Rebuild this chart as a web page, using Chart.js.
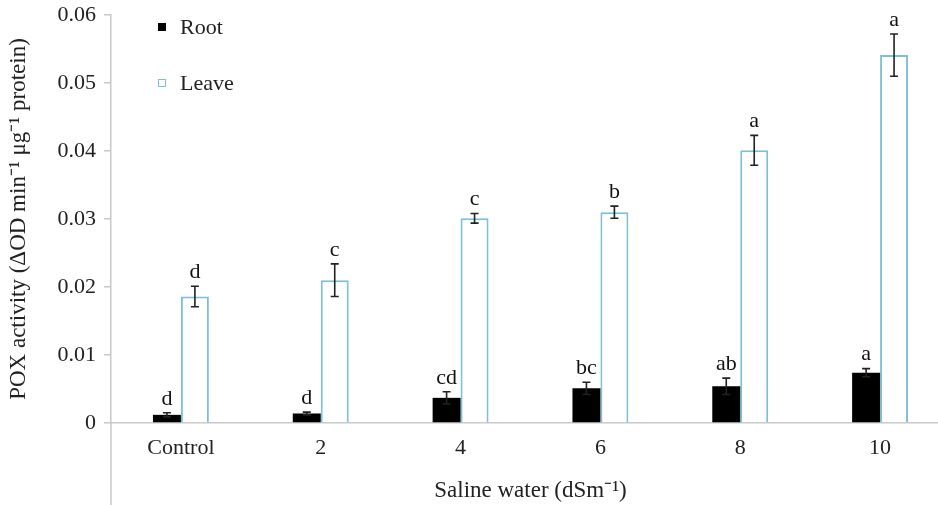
<!DOCTYPE html>
<html>
<head>
<meta charset="utf-8">
<script src="https://cdn.jsdelivr.net/npm/chart.js@4.4.1/dist/chart.umd.min.js"></script>
<style>
  html, body { margin: 0; padding: 0; background: #fff; overflow: hidden; }
  #wrap { width: 960px; height: 505px; position: relative; }
</style>
</head>
<body>
<div id="wrap"><canvas id="grafico"></canvas></div>
<script>
// datos
const categorias = ["Control", "2", "4", "6", "8", "10"];
const raiz = [0.0012, 0.0014, 0.0037, 0.0051, 0.0054, 0.0074];
const raizError = [0.0003, 0.0002, 0.0009, 0.0009, 0.0012, 0.0006];
const raizLetras = ["d", "d", "cd", "bc", "ab", "a"];
const hoja = [0.0186, 0.021, 0.0301, 0.031, 0.0401, 0.0541];
const hojaError = [0.0015, 0.0024, 0.0007, 0.0009, 0.0022, 0.0031];
const hojaLetras = ["d", "c", "c", "b", "a", "a"];
const ticksY = [0, 0.01, 0.02, 0.03, 0.04, 0.05, 0.06];

const FUENTE = "'Liberation Serif', 'Times New Roman', serif";
const AZUL = '#7dbfd6';

// barras de error + letras encima
const pluginErrores = {
    id: 'errores',
    afterDatasetsDraw(chart) {
        const ctx = chart.ctx;
        const y = chart.scales.y;
        const errores = [raizError, hojaError];
        const letras = [raizLetras, hojaLetras];
        ctx.save();
        ctx.strokeStyle = '#222';
        ctx.fillStyle = '#111';
        ctx.lineWidth = 1.6;
        ctx.font = "22px " + FUENTE;
        ctx.textAlign = 'center';
        ctx.textBaseline = 'bottom';
        chart.data.datasets.forEach((ds, i) => {
            const meta = chart.getDatasetMeta(i);
            meta.data.forEach((bar, j) => {
                const v = ds.data[j];
                const e = errores[i][j];
                const x = bar.x;
                const yTop = y.getPixelForValue(v + e);
                const yBot = y.getPixelForValue(v - e);
                ctx.beginPath();
                ctx.moveTo(x, yTop); ctx.lineTo(x, yBot);
                ctx.moveTo(x - 4, yTop); ctx.lineTo(x + 4, yTop);
                ctx.moveTo(x - 4, yBot); ctx.lineTo(x + 4, yBot);
                ctx.stroke();
                ctx.fillText(letras[i][j], x, yTop - 3);
            });
        });
        ctx.restore();
    }
};

// leyenda vertical y eje que baja hasta el borde
const pluginExtra = {
    id: 'extra',
    afterDraw(chart) {
        const ctx = chart.ctx;
        const area = chart.chartArea;
        ctx.save();
        ctx.strokeStyle = '#c8c8c8';
        ctx.lineWidth = 1.5;
        ctx.beginPath();
        ctx.moveTo(area.left, area.bottom);
        ctx.lineTo(area.left, chart.height);
        ctx.stroke();

        ctx.font = "22px " + FUENTE;
        ctx.textBaseline = 'middle';
        const filas = [27, 83];
        chart.data.datasets.forEach((ds, i) => {
            const yy = filas[i];
            ctx.fillStyle = ds.backgroundColor;
            ctx.fillRect(158, yy - 4, 8, 8);
            ctx.strokeStyle = i === 0 ? '#000' : AZUL;
            ctx.lineWidth = 1;
            ctx.strokeRect(158.5, yy - 3.5, 7, 7);
            ctx.fillStyle = '#222';
            ctx.fillText(ds.label, 180, yy + 1);
        });
        ctx.restore();
    }
};

new Chart(document.getElementById("grafico"), {
    type: 'bar',
    data: {
        labels: categorias,
        datasets: [
            { label: 'Root', data: raiz, backgroundColor: '#000', borderColor: '#000', borderWidth: 0 },
            { label: 'Leave', data: hoja, backgroundColor: '#fff', borderColor: AZUL, borderWidth: 2 }
        ]
    },
    options: {
        responsive: true,
        maintainAspectRatio: false,
        animation: false,
        categoryPercentage: 0.4,
        barPercentage: 1.0,
        layout: { padding: { top: 0, right: 10, bottom: 0, left: 0 } },
        plugins: {
            legend: { display: false },
            tooltip: { enabled: false }
        },
        scales: {
            x: {
                afterFit: s => { s.height = 82; },
                grid: { drawOnChartArea: false, drawTicks: false },
                border: { color: '#c8c8c8', width: 1.5 },
                ticks: { color: '#222', font: { family: FUENTE, size: 22 }, padding: 12 },
                title: {
                    display: true, text: 'Saline water (dSm\u207B\u00B9)',
                    color: '#222', font: { family: FUENTE, size: 23 }, padding: { top: 10, bottom: 0 }
                }
            },
            y: {
                min: 0, max: 0.06,
                afterFit: s => { s.width = 111; s.paddingTop = 15; },
                afterBuildTicks: s => { s.ticks = ticksY.map(v => ({ value: v })); },
                grid: { drawOnChartArea: false, tickLength: 7, color: '#c8c8c8', lineWidth: 1.5 },
                border: { color: '#c8c8c8', width: 1.5 },
                ticks: {
                    color: '#222', font: { family: FUENTE, size: 22 }, padding: 8,
                    callback: v => v === 0 ? '0' : v.toFixed(2)
                },
                title: {
                    display: true, text: 'POX activity (\u0394OD min\u207B\u00B9 \u03BCg\u207B\u00B9 protein)',
                    color: '#222', font: { family: FUENTE, size: 23 }, padding: { top: 5, bottom: 0 }
                }
            }
        }
    },
    plugins: [pluginErrores, pluginExtra]
});
</script>
</body>
</html>
